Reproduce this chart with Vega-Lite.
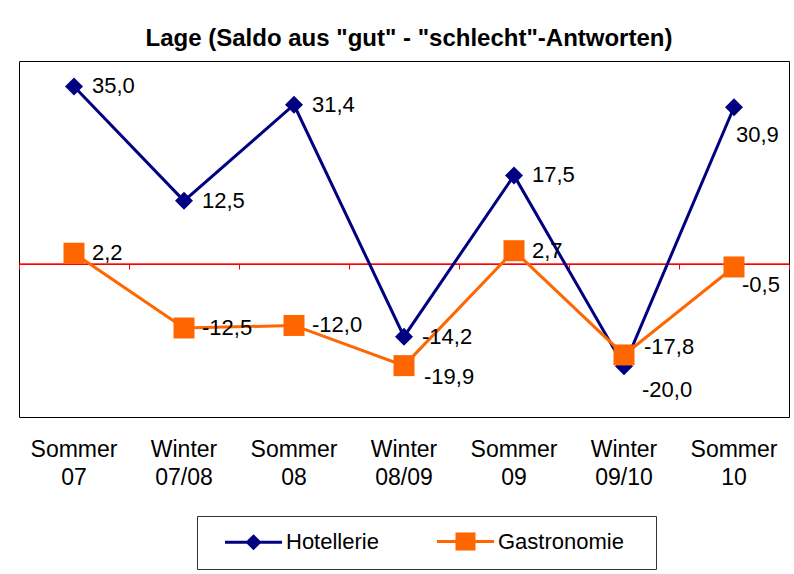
{
  "$schema": "https://vega.github.io/schema/vega-lite/v6.json",
  "width": 770,
  "height": 356,
  "autosize": {"type": "none"},
  "padding": {"left": 19, "top": 61, "right": 5, "bottom": 157},
  "background": "white",
  "config": {
    "font": "Liberation Sans",
    "locale": {"number": {"decimal": ",", "thousands": ".", "grouping": [3], "currency": ["", " €"], "minus": "-"}},
    "view": {"stroke": "#000000", "strokeWidth": 1}
  },
  "title": {
    "text": "Lage (Saldo aus \"gut\" - \"schlecht\"-Antworten)",
    "font": "Liberation Sans",
    "fontSize": 24,
    "fontWeight": "bold",
    "color": "#000000",
    "anchor": "middle",
    "dx": 5,
    "offset": 10
  },
  "data": {
    "values": [
      {"period": "Sommer 07", "series": "Hotellerie", "value": 35.0},
      {"period": "Winter 07/08", "series": "Hotellerie", "value": 12.5},
      {"period": "Sommer 08", "series": "Hotellerie", "value": 31.4},
      {"period": "Winter 08/09", "series": "Hotellerie", "value": -14.2},
      {"period": "Sommer 09", "series": "Hotellerie", "value": 17.5},
      {"period": "Winter 09/10", "series": "Hotellerie", "value": -20.0},
      {"period": "Sommer 10", "series": "Hotellerie", "value": 30.9},
      {"period": "Sommer 07", "series": "Gastronomie", "value": 2.2},
      {"period": "Winter 07/08", "series": "Gastronomie", "value": -12.5},
      {"period": "Sommer 08", "series": "Gastronomie", "value": -12.0},
      {"period": "Winter 08/09", "series": "Gastronomie", "value": -19.9},
      {"period": "Sommer 09", "series": "Gastronomie", "value": 2.7},
      {"period": "Winter 09/10", "series": "Gastronomie", "value": -17.8},
      {"period": "Sommer 10", "series": "Gastronomie", "value": -0.5}
    ]
  },
  "resolve": {"axis": {"x": "independent"}},
  "layer": [
    {
      "mark": {"type": "rule", "color": "#FF0000", "strokeWidth": 1},
      "encoding": {
        "y": {"datum": 0, "type": "quantitative", "scale": {"domain": [-30, 40], "nice": false, "zero": false}, "axis": null}
      }
    },
    {
      "transform": [{"filter": "datum.series === 'Hotellerie'"}],
      "mark": {"type": "line", "strokeWidth": 3, "point": {"shape": "diamond", "size": 324, "filled": true, "opacity": 1}},
      "encoding": {
        "x": {
          "field": "period", "type": "nominal",
          "sort": ["Sommer 07", "Winter 07/08", "Sommer 08", "Winter 08/09", "Sommer 09", "Winter 09/10", "Sommer 10"],
          "scale": {"type": "band", "paddingInner": 0, "paddingOuter": 0},
          "axis": {
            "orient": "bottom", "domain": false, "ticks": false, "tickSize": 0, "grid": false, "title": null,
            "labelExpr": "split(datum.value, ' ')", "labelAngle": 0, "labelFont": "Liberation Sans",
            "labelFontSize": 23, "labelColor": "#000000", "labelPadding": 21, "labelLineHeight": 28, "labelBaseline": "top"
          }
        },
        "y": {"field": "value", "type": "quantitative", "scale": {"domain": [-30, 40], "nice": false, "zero": false}, "axis": null},
        "color": {
          "field": "series", "type": "nominal",
          "scale": {"domain": ["Hotellerie", "Gastronomie"], "range": ["#000080", "#FF6600"]},
          "legend": {
            "orient": "none", "legendX": 178, "legendY": 455, "direction": "horizontal",
            "title": " ", "titleOrient": "right", "titlePadding": 18, "titleFontSize": 8,
            "labelFont": "Liberation Sans", "labelFontSize": 22, "labelColor": "#000000",
            "strokeColor": "#333333", "padding": 14, "symbolSize": 400, "symbolStrokeWidth": 3,
            "symbolOffset": 31, "labelOffset": 21, "columnPadding": 44,
            "encode": {
              "symbols": {
                "update": {
                  "shape": {"signal": "datum.value === 'Hotellerie' ? 'M-2.85,0L2.85,0M0,-0.6L0.6,0L0,0.6L-0.6,0Z' : 'M-2.85,0L2.85,0M-0.85,-0.75L0.85,-0.75L0.85,0.75L-0.85,0.75Z'"},
                  "fill": {"scale": "color", "field": "value"},
                  "stroke": {"scale": "color", "field": "value"},
                  "opacity": {"value": 1},
                  "fillOpacity": {"value": 1},
                  "strokeOpacity": {"value": 1}
                }
              }
            }
          }
        }
      }
    },
    {
      "transform": [{"filter": "datum.series === 'Gastronomie'"}],
      "mark": {"type": "line", "strokeWidth": 3, "point": {"shape": "square", "size": 441, "filled": true, "opacity": 1}},
      "encoding": {
        "x": {
          "field": "period", "type": "nominal",
          "sort": ["Sommer 07", "Winter 07/08", "Sommer 08", "Winter 08/09", "Sommer 09", "Winter 09/10", "Sommer 10"],
          "scale": {"type": "band", "paddingInner": 0, "paddingOuter": 0},
          "axis": {
            "orient": "top", "offset": -203, "domain": false, "labels": false, "ticks": true,
            "tickColor": "#FF0000", "tickSize": -5, "tickWidth": 1, "tickBand": "extent", "grid": false, "title": null
          }
        },
        "y": {"field": "value", "type": "quantitative", "scale": {"domain": [-30, 40], "nice": false, "zero": false}, "axis": null},
        "color": {"field": "series", "type": "nominal", "scale": {"domain": ["Hotellerie", "Gastronomie"], "range": ["#000080", "#FF6600"]}}
      }
    },
    {
      "transform": [{"filter": "!((datum.series === 'Hotellerie' && (datum.period === 'Winter 09/10' || datum.period === 'Sommer 10')) || (datum.series === 'Gastronomie' && (datum.period === 'Winter 08/09' || datum.period === 'Winter 09/10' || datum.period === 'Sommer 10')))"}],
      "mark": {"type": "text", "align": "left", "baseline": "middle", "dx": 18, "dy": 0, "font": "Liberation Sans", "fontSize": 22, "color": "#000000"},
      "encoding": {
        "x": {"field": "period", "type": "nominal", "sort": ["Sommer 07", "Winter 07/08", "Sommer 08", "Winter 08/09", "Sommer 09", "Winter 09/10", "Sommer 10"], "axis": null},
        "y": {"field": "value", "type": "quantitative", "axis": null},
        "text": {"field": "value", "type": "quantitative", "format": ".1f"}
      }
    },
    {
      "transform": [{"filter": "datum.series === 'Hotellerie' && datum.period === 'Winter 09/10'"}],
      "mark": {"type": "text", "align": "left", "baseline": "middle", "dx": 18, "dy": 24, "font": "Liberation Sans", "fontSize": 22, "color": "#000000"},
      "encoding": {
        "x": {"field": "period", "type": "nominal", "sort": ["Sommer 07", "Winter 07/08", "Sommer 08", "Winter 08/09", "Sommer 09", "Winter 09/10", "Sommer 10"], "axis": null},
        "y": {"field": "value", "type": "quantitative", "axis": null},
        "text": {"field": "value", "type": "quantitative", "format": ".1f"}
      }
    },
    {
      "transform": [{"filter": "datum.series === 'Hotellerie' && datum.period === 'Sommer 10'"}],
      "mark": {"type": "text", "align": "left", "baseline": "middle", "dx": 2, "dy": 28, "font": "Liberation Sans", "fontSize": 22, "color": "#000000"},
      "encoding": {
        "x": {"field": "period", "type": "nominal", "sort": ["Sommer 07", "Winter 07/08", "Sommer 08", "Winter 08/09", "Sommer 09", "Winter 09/10", "Sommer 10"], "axis": null},
        "y": {"field": "value", "type": "quantitative", "axis": null},
        "text": {"field": "value", "type": "quantitative", "format": ".1f"}
      }
    },
    {
      "transform": [{"filter": "datum.series === 'Gastronomie' && datum.period === 'Winter 08/09'"}],
      "mark": {"type": "text", "align": "left", "baseline": "middle", "dx": 20, "dy": 11, "font": "Liberation Sans", "fontSize": 22, "color": "#000000"},
      "encoding": {
        "x": {"field": "period", "type": "nominal", "sort": ["Sommer 07", "Winter 07/08", "Sommer 08", "Winter 08/09", "Sommer 09", "Winter 09/10", "Sommer 10"], "axis": null},
        "y": {"field": "value", "type": "quantitative", "axis": null},
        "text": {"field": "value", "type": "quantitative", "format": ".1f"}
      }
    },
    {
      "transform": [{"filter": "datum.series === 'Gastronomie' && datum.period === 'Winter 09/10'"}],
      "mark": {"type": "text", "align": "left", "baseline": "middle", "dx": 20, "dy": -8, "font": "Liberation Sans", "fontSize": 22, "color": "#000000"},
      "encoding": {
        "x": {"field": "period", "type": "nominal", "sort": ["Sommer 07", "Winter 07/08", "Sommer 08", "Winter 08/09", "Sommer 09", "Winter 09/10", "Sommer 10"], "axis": null},
        "y": {"field": "value", "type": "quantitative", "axis": null},
        "text": {"field": "value", "type": "quantitative", "format": ".1f"}
      }
    },
    {
      "transform": [{"filter": "datum.series === 'Gastronomie' && datum.period === 'Sommer 10'"}],
      "mark": {"type": "text", "align": "left", "baseline": "middle", "dx": 8, "dy": 18, "font": "Liberation Sans", "fontSize": 22, "color": "#000000"},
      "encoding": {
        "x": {"field": "period", "type": "nominal", "sort": ["Sommer 07", "Winter 07/08", "Sommer 08", "Winter 08/09", "Sommer 09", "Winter 09/10", "Sommer 10"], "axis": null},
        "y": {"field": "value", "type": "quantitative", "axis": null},
        "text": {"field": "value", "type": "quantitative", "format": ".1f"}
      }
    }
  ]
}
